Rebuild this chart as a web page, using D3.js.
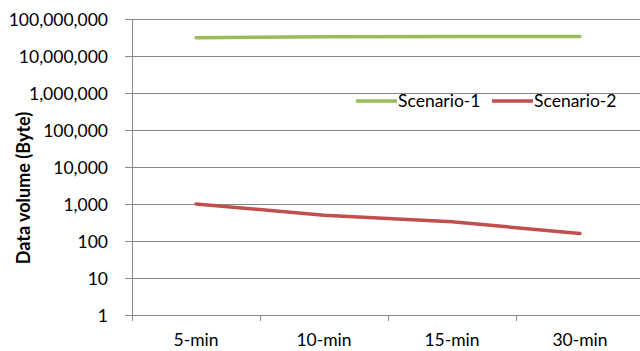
<!DOCTYPE html>
<html>
<head>
<meta charset="utf-8">
<script src="https://cdn.jsdelivr.net/npm/d3@7"></script>
<style>
  html, body { margin: 0; padding: 0; background: #fff; }
  svg { display: block; font-family: Lato, "Open Sans", sans-serif; }
</style>
</head>
<body>
<svg id="chart" width="640" height="351"></svg>
<script>
// Categories and series values
const categories = ["5-min", "10-min", "15-min", "30-min"];
const scenario1 = [31000000, 33000000, 33500000, 33500000];
const scenario2 = [1000, 500, 330, 160];
const seriesNames = ["Scenario-1", "Scenario-2"];
const seriesColors = ["#9BBB59", "#C0504D"];
const yTicks = [1, 10, 100, 1000, 10000, 100000, 1000000, 10000000, 100000000];

const svg = d3.select("#chart");
const plotLeft = 132, plotRight = 644, plotTop = 19, plotBottom = 315;
const fontSize = 17.5;

const x = d3.scaleBand().domain(categories).range([plotLeft, plotRight]);
const y = d3.scaleLog().domain([1, 1e8]).range([plotBottom, plotTop]);
const fmt = d3.format(",");

// Horizontal gridlines
svg.append("g").selectAll("line").data(yTicks).join("line")
  .attr("x1", plotLeft - 7).attr("x2", plotRight)
  .attr("y1", d => Math.round(y(d)) + 0.5).attr("y2", d => Math.round(y(d)) + 0.5)
  .attr("stroke", "#888").attr("stroke-width", 1);

// Y axis labels
svg.append("g").selectAll("text").data(yTicks).join("text")
  .attr("x", 108).attr("y", d => y(d) + 6.5)
  .attr("text-anchor", "end").attr("font-size", fontSize).attr("fill", "#000")
  .text(d => fmt(d));

// Y axis line
svg.append("line")
  .attr("x1", plotLeft + 0.5).attr("x2", plotLeft + 0.5)
  .attr("y1", plotTop).attr("y2", plotBottom + 6)
  .attr("stroke", "#888");

// X axis tick marks between categories
const bounds = categories.map(c => x(c)).concat([plotRight]);
svg.append("g").selectAll("line").data(bounds.slice(1)).join("line")
  .attr("x1", d => Math.round(d) + 0.5).attr("x2", d => Math.round(d) + 0.5)
  .attr("y1", plotBottom).attr("y2", plotBottom + 6)
  .attr("stroke", "#888");

// X axis labels
svg.append("g").selectAll("text").data(categories).join("text")
  .attr("x", d => x(d) + x.bandwidth() / 2).attr("y", 346)
  .attr("text-anchor", "middle").attr("font-size", fontSize).attr("fill", "#000")
  .text(d => d);

// Y axis title
svg.append("text")
  .attr("transform", "translate(30,188) rotate(-90)")
  .attr("text-anchor", "middle").attr("font-size", 18).attr("font-weight", "bold")
  .text("Data volume (Byte)");

// Series lines
const line = d3.line()
  .x((d, i) => x(categories[i]) + x.bandwidth() / 2)
  .y(d => y(d));
[scenario1, scenario2].forEach((vals, i) => {
  svg.append("path").datum(vals)
    .attr("d", line)
    .attr("fill", "none")
    .attr("stroke", seriesColors[i])
    .attr("stroke-width", 3.5)
    .attr("stroke-linecap", "round")
    .attr("stroke-linejoin", "round");
});

// Legend
const legendItems = [{x: 356, name: seriesNames[0], color: seriesColors[0]},
                     {x: 492, name: seriesNames[1], color: seriesColors[1]}];
const lg = svg.append("g").selectAll("g").data(legendItems).join("g");
lg.append("line")
  .attr("x1", d => d.x).attr("x2", d => d.x + 41)
  .attr("y1", 101).attr("y2", 101)
  .attr("stroke", d => d.color).attr("stroke-width", 3.5);
lg.append("text")
  .attr("x", d => d.x + 42).attr("y", 107)
  .attr("font-size", fontSize).attr("fill", "#000")
  .text(d => d.name);
</script>
</body>
</html>
